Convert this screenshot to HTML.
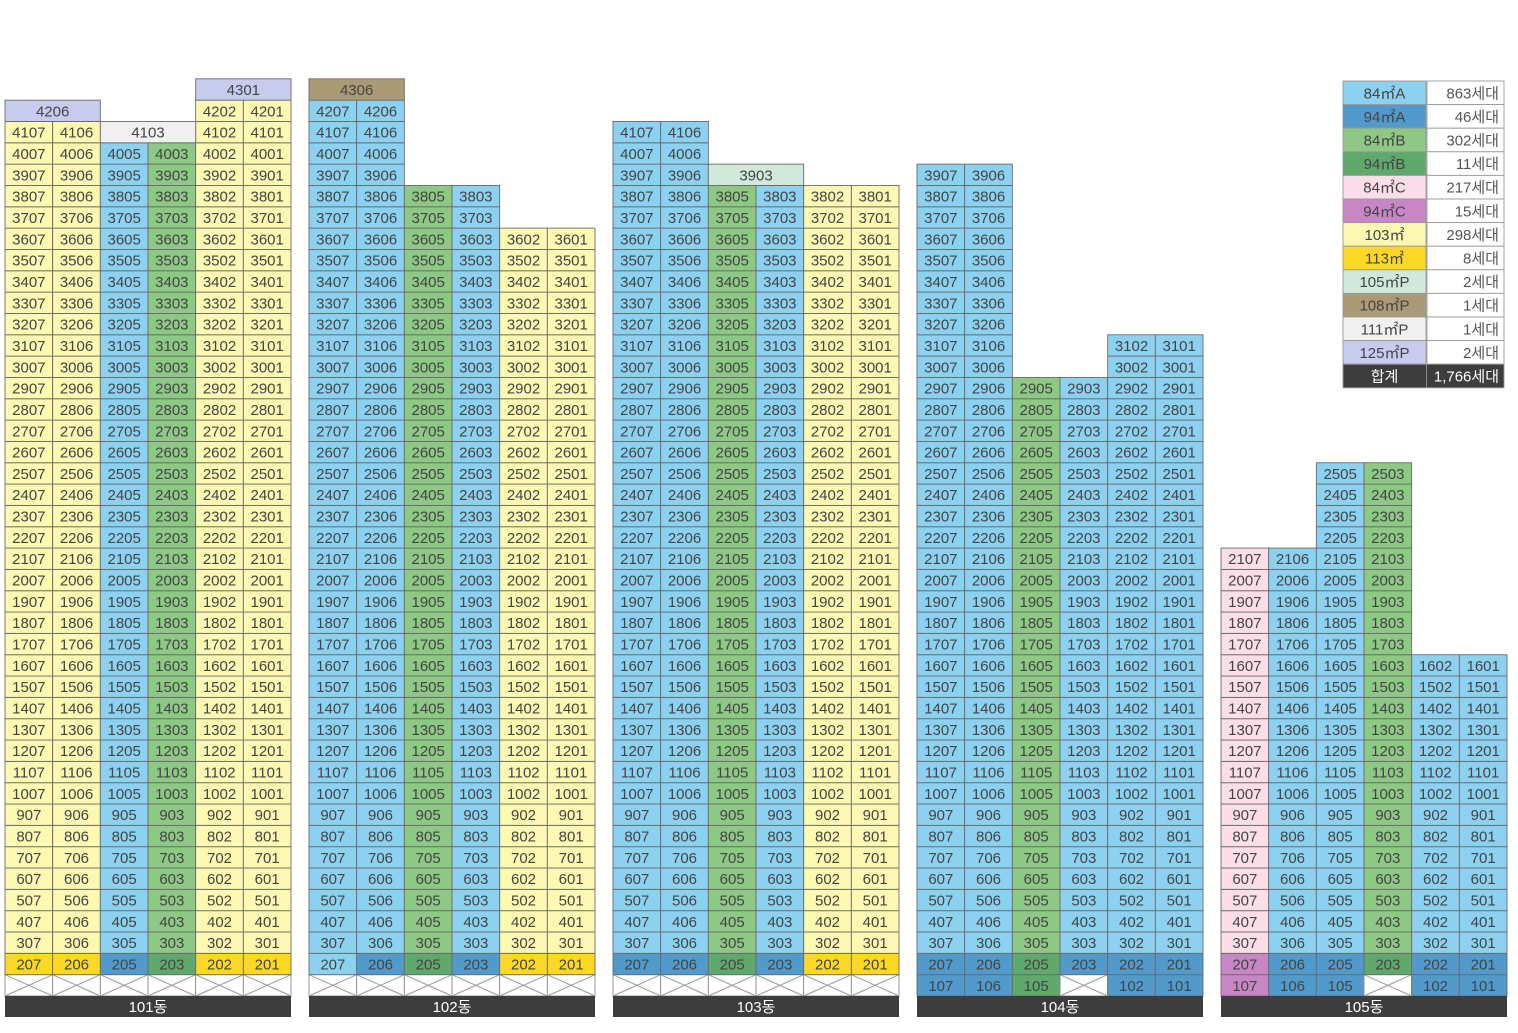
<!DOCTYPE html>
<html><head><meta charset="utf-8">
<style>
html,body{margin:0;padding:0;background:#fff;}
svg{display:block;}
text{font-family:"Liberation Sans","Noto Sans CJK KR",sans-serif;}
</style></head>
<body>
<svg id="chart" width="1518" height="1033" viewBox="0 0 1518 1033" xmlns="http://www.w3.org/2000/svg"></svg>
<script>
// ---- data ----
const buildingNames = ["101동","102동","103동","104동","105동"];
const lineNumbers = ["07","06","05","03","02","01"];
const topFloors = [
  [41,41,40,40,42,42],
  [42,42,38,38,36,36],
  [41,41,38,38,38,38],
  [39,39,29,29,31,31],
  [21,21,25,25,16,16]
];
const baseTypes = [
  ["103","103","84A","84B","103","103"],
  ["84A","84A","84B","84A","103","103"],
  ["84A","84A","84B","84A","103","103"],
  ["84A","84A","84B","84A","84A","84A"],
  ["84C","84A","84A","84B","84A","84A"]
];
const floor2Types = [
  ["113","113","94A","94B","113","113"],
  ["84A","94A","94B","94A","113","113"],
  ["94A","94A","94B","94A","113","113"],
  ["94A","94A","94B","94A","94A","94A"],
  ["94C","94A","94A","94B","94A","94A"]
];
const floor1Types = [
  ["x","x","x","x","x","x"],
  ["x","x","x","x","x","x"],
  ["x","x","x","x","x","x"],
  ["94A","94A","94B","x","94A","94A"],
  ["94C","94A","94A","x","94A","94A"]
];
// special merged units: [building, firstCol, floor, label, type]
const specialUnits = [
  [0,0,42,"4206","125P"],[0,2,41,"4103","111P"],[0,4,43,"4301","125P"],
  [1,0,43,"4306","108P"],[2,2,39,"3903","105P"]
];
const legendTypes = ["84㎡A","94㎡A","84㎡B","94㎡B","84㎡C","94㎡C","103㎡","113㎡","105㎡P","108㎡P","111㎡P","125㎡P"];
const legendKeys = ["84A","94A","84B","94B","84C","94C","103","113","105P","108P","111P","125P"];
const legendCounts = ["863세대","46세대","302세대","11세대","217세대","15세대","298세대","8세대","2세대","1세대","1세대","2세대"];
const totalLabel = ["합계","1,766세대"];

const colors = {"84A":"#8dd1f1","94A":"#519acb","84B":"#8dc885","94B":"#5ea96b","84C":"#fbdee9","94C":"#c786c4",
  "103":"#fdf8b2","113":"#fbd825","105P":"#d0e9da","108P":"#aa9b76","111P":"#f0f0f0","125P":"#c7cbee"};

// ---- geometry ----
const svg = document.getElementById('chart');
const NS = "http://www.w3.org/2000/svg";
const baseY = 996, rowH = 21.33, bx0 = 5, bStep = 304, colW = 47.67;
const xCol = (b,c) => bx0 + b*bStep + c*colW;
const yFloorTop = f => baseY - f*rowH;

function mk(tag, attrs){ const e=document.createElementNS(NS,tag); for(const k in attrs) e.setAttribute(k,attrs[k]); svg.appendChild(e); return e; }
function cell(x,y,w,h,fill,label,name){
  const r = mk('rect',{x:x,y:y,width:w,height:h,fill:fill,stroke:"#6b6b6b","stroke-width":0.9});
  
  
  if(label!==null){
    const t = mk('text',{x:x+w/2,y:y+h/2+5.5,"text-anchor":"middle","font-size":15,fill:"#444"});
    t.textContent = label;
    
    
  }
}
function cross(x,y,w,h,name){
  const r = mk('rect',{x:x,y:y,width:w,height:h,fill:"#fff",stroke:"#8a8a8a","stroke-width":0.9});
  
  
  mk('line',{x1:x,y1:y,x2:x+w,y2:y+h,stroke:"#999","stroke-width":1});
  mk('line',{x1:x+w,y1:y,x2:x,y2:y+h,stroke:"#999","stroke-width":1});
}

for(let b=0;b<buildingNames.length;b++){
  for(let c=0;c<6;c++){
    const x = xCol(b,c);
    for(let f=1; f<=topFloors[b][c]; f++){
      const y = yFloorTop(f);
      const unit = f*100 + parseInt(lineNumbers[c],10);
      let type = f===1 ? floor1Types[b][c] : (f===2 ? floor2Types[b][c] : baseTypes[b][c]);
      if(type==="x") cross(x,y,colW,rowH,'pilotis-'+buildingNames[b]+'-'+lineNumbers[c]);
      else cell(x,y,colW,rowH,colors[type],String(unit),'unit-'+unit+'-b'+b);
    }
  }
  // label bar
  const lb = mk('rect',{x:xCol(b,0),y:baseY,width:colW*6,height:21,fill:"#3d3d3d"});
  
  
  const lt = mk('text',{x:xCol(b,0)+colW*3,y:baseY+16,"text-anchor":"middle","font-size":15,fill:"#fff"});
  lt.textContent = buildingNames[b];
  
  
}
for(const s of specialUnits){
  cell(xCol(s[0],s[1]), yFloorTop(s[2]), colW*2, rowH, colors[s[4]], s[3], 'penthouse-'+s[3]);
}

// ---- legend ----
const lx = 1343, ly = 81, lh = 23.6, lw1 = 83, lw2 = 77;
for(let i=0;i<legendTypes.length;i++){
  const y = ly + i*lh;
  const r1 = mk('rect',{x:lx,y:y,width:lw1,height:lh,fill:colors[legendKeys[i]],stroke:"#999","stroke-width":0.9});
  
  
  const t1 = mk('text',{x:lx+lw1/2,y:y+lh/2+5.5,"text-anchor":"middle","font-size":15,fill:"#444"});
  t1.textContent = legendTypes[i];
  
  
  const r2 = mk('rect',{x:lx+lw1+1,y:y,width:lw2,height:lh,fill:"#fff",stroke:"#999","stroke-width":0.9});
  
  
  const t2 = mk('text',{x:lx+lw1+lw2-4,y:y+lh/2+5.5,"text-anchor":"end","font-size":15,fill:"#555"});
  t2.textContent = legendCounts[i];
  
  
}
{
  const y = ly + legendTypes.length*lh;
  const r = mk('rect',{x:lx,y:y,width:lw1+lw2+1,height:lh,fill:"#3d3d3d",stroke:"#999","stroke-width":0.9});
  
  
  mk('line',{x1:lx+lw1+0.5,y1:y,x2:lx+lw1+0.5,y2:y+lh,stroke:"#888","stroke-width":1});
  const t1 = mk('text',{x:lx+lw1/2,y:y+lh/2+5.5,"text-anchor":"middle","font-size":15,fill:"#fff"});
  t1.textContent = totalLabel[0];
  
  
  const t2 = mk('text',{x:lx+lw1+lw2-4,y:y+lh/2+5.5,"text-anchor":"end","font-size":15,fill:"#fff"});
  t2.textContent = totalLabel[1];
  
  
}
</script>
</body></html>
